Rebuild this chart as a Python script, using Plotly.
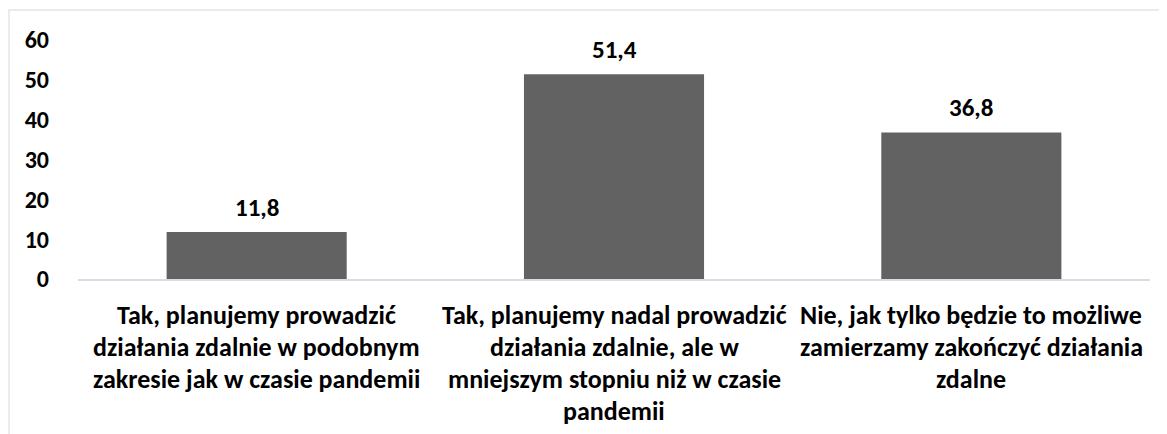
import plotly.graph_objects as go

categories = ["Kat1", "Kat2", "Kat3"]
category_lines = [
    ["Tak, planujemy prowadzić", "działania zdalnie w podobnym", "zakresie jak w czasie pandemii"],
    ["Tak, planujemy nadal prowadzić", "działania zdalnie, ale w", "mniejszym stopniu niż w czasie", "pandemii"],
    ["Nie, jak tylko będzie to możliwe", "zamierzamy zakończyć działania", "zdalne"],
]
values = [11.8, 51.4, 36.8]
y_ticks = [0, 10, 20, 30, 40, 50, 60]

FONT = "Calibri, Carlito, Lato, sans-serif"
FS_TICK = 24
FS_VAL = 25
FS_CAT = 26

L, T, R, B = 70, 32, 1142, 271  # plot area in figure pixels
PW, PH = R - L, B - T

fig = go.Figure()
fig.add_trace(go.Bar(
    x=categories, y=values,
    marker=dict(color="#626262", line=dict(width=0)),
    hoverinfo="skip",
))

annotations = []
for cat, v in zip(categories, values):
    annotations.append(dict(
        x=cat, y=v, xref="x", yref="y", text="<b>" + f"{v:.1f}".replace(".", ",") + "</b>",
        showarrow=False, yanchor="bottom", yshift=7,
        font=dict(family=FONT, size=FS_VAL, color="#000000"),
    ))
for cat, lines in zip(categories, category_lines):
    for i, line in enumerate(lines):
        annotations.append(dict(
            x=cat, y=0, xref="x", yref="y", text="<b>" + line + "</b>",
            showarrow=False, yanchor="middle", yshift=-(36 + 32 * i),
            font=dict(family=FONT, size=FS_CAT, color="#000000"),
        ))

fig.update_layout(
    width=1167, height=434,
    margin=dict(l=L, r=1167 - R, t=T, b=434 - B),
    paper_bgcolor="white", plot_bgcolor="white",
    showlegend=False,
    bargap=0.496,
    annotations=annotations,
    font=dict(family=FONT, size=FS_TICK, color="#000000"),
    shapes=[dict(
        type="rect", xref="paper", yref="paper",
        x0=(1 - L) / PW, x1=(1158 - L) / PW,
        y0=(B - 445) / PH, y1=(B - 2) / PH,
        line=dict(color="#e3e3ea", width=1.5), fillcolor="rgba(0,0,0,0)", layer="below",
    )],
)
fig.update_xaxes(
    showticklabels=False, showgrid=False, zeroline=False,
    showline=True, linecolor="#d9dce3", linewidth=2,
)
fig.update_yaxes(
    range=[0, 60], tickvals=y_ticks, ticktext=[f"<b>{t}</b>" for t in y_ticks],
    showgrid=False, zeroline=False, showline=False,
    ticklabelstandoff=28,
    tickfont=dict(family=FONT, size=FS_TICK, color="#000000"),
)

fig.write_html("out.html")
